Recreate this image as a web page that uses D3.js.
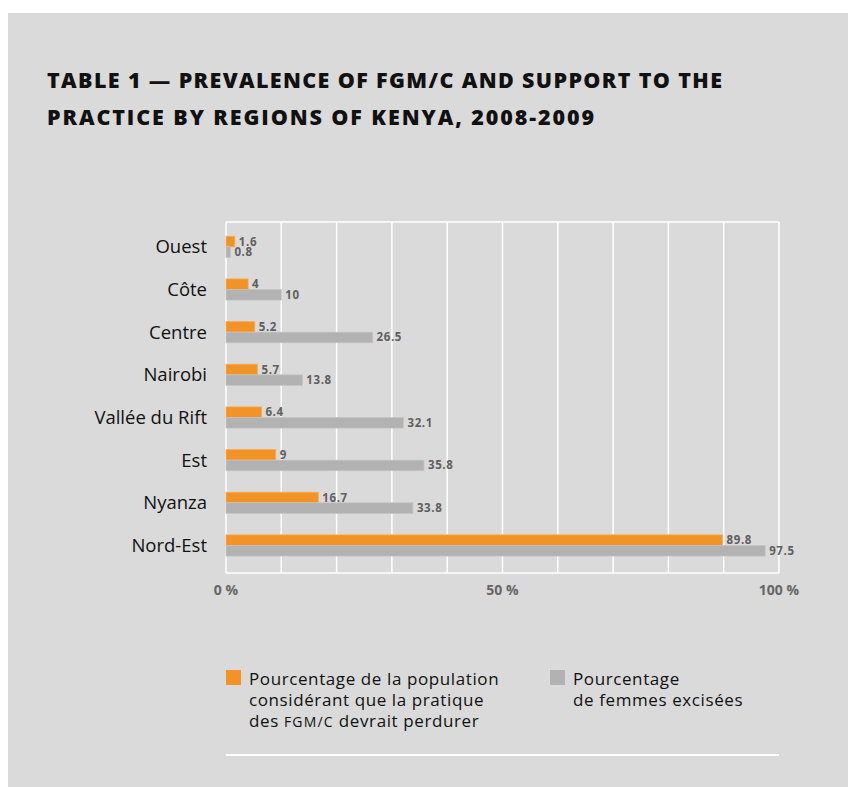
<!DOCTYPE html>
<html>
<head>
<meta charset="utf-8">
<script src="https://cdn.jsdelivr.net/npm/d3@7"></script>
<style>
  html, body { margin: 0; padding: 0; background: #ffffff; }
  svg { display: block; }
</style>
</head>
<body>
<script>
// ---- data ----
const categories = ["Ouest", "Côte", "Centre", "Nairobi", "Vallée du Rift", "Est", "Nyanza", "Nord-Est"];
const supportValues = [1.6, 4, 5.2, 5.7, 6.4, 9, 16.7, 89.8];      // % population supporting continuation
const prevalenceValues = [0.8, 10, 26.5, 13.8, 32.1, 35.8, 33.8, 97.5]; // % women cut
const gridTicks = [0, 10, 20, 30, 40, 50, 60, 70, 80, 90, 100];
const labelTicks = [0, 50, 100];
const titleLines = ["TABLE 1 — PREVALENCE OF FGM/C AND SUPPORT TO THE", "PRACTICE BY REGIONS OF KENYA, 2008-2009"];

const W = 848, H = 787;
const ORANGE = "#F39325", GRAY = "#B2B2B2", BG = "#DADADA";

const svg = d3.select("body").append("svg").attr("width", W).attr("height", H);

// panel background
svg.append("rect").attr("x", 8).attr("y", 13).attr("width", W - 8).attr("height", H - 13).attr("fill", BG);

// title
const tW = [675, 547];
titleLines.forEach((t, i) => {
  svg.append("text")
    .attr("x", 47).attr("y", 88 + i * 37)
    .attr("font-family", "'Open Sans', sans-serif")
    .attr("font-weight", 800)
    .attr("font-size", 21.5)
    .attr("fill", "#111")
    .attr("textLength", tW[i])
    .attr("lengthAdjust", "spacing")
    .text(t);
});

// scales
const x = d3.scaleLinear().domain([0, 100]).range([226, 779]);
const y = d3.scaleBand().domain(categories).range([225.5, 566.8]);
const plotTop = 222, plotBottom = 573;
const barH = 10.6;

// grid
const g = svg.append("g");
g.selectAll("line.grid").data(gridTicks).enter().append("line")
  .attr("x1", d => x(d)).attr("x2", d => x(d))
  .attr("y1", plotTop).attr("y2", plotBottom)
  .attr("stroke", "#fff").attr("stroke-width", 1.5);
[plotTop, plotBottom].forEach(yy => {
  g.append("line").attr("x1", x(0)).attr("x2", x(100)).attr("y1", yy).attr("y2", yy)
    .attr("stroke", "#fff").attr("stroke-width", 1.5);
});

// tick labels
g.selectAll("text.tick").data(labelTicks).enter().append("text")
  .attr("x", d => x(d)).attr("y", 595)
  .attr("text-anchor", "middle")
  .attr("font-family", "'Open Sans', sans-serif")
  .attr("font-weight", 700).attr("font-size", 14)
  .attr("fill", "#666")
  .text(d => d + " %");

// category labels
g.selectAll("text.cat").data(categories).enter().append("text")
  .attr("x", 207).attr("y", d => y(d) + y.bandwidth() / 2)
  .attr("dy", "0.35em")
  .attr("text-anchor", "end")
  .attr("font-family", "'Open Sans', sans-serif")
  .attr("font-size", 18.5)
  .attr("fill", "#111")
  .text(d => d);

const rows = categories.map((c, i) => ({ c, s: supportValues[i], p: prevalenceValues[i] }));

// bars
g.selectAll("rect.sup").data(rows).enter().append("rect")
  .attr("x", x(0)).attr("y", d => y(d.c) + y.bandwidth() / 2 - barH)
  .attr("width", d => x(d.s) - x(0)).attr("height", barH)
  .attr("fill", ORANGE).attr("stroke", "#F5AE5E").attr("stroke-width", 0.8);
g.selectAll("rect.prev").data(rows).enter().append("rect")
  .attr("x", x(0)).attr("y", d => y(d.c) + y.bandwidth() / 2)
  .attr("width", d => x(d.p) - x(0)).attr("height", barH)
  .attr("fill", GRAY).attr("stroke", "#C4C4C4").attr("stroke-width", 0.8);

// value labels
const vlab = (sel, key, off) => sel.enter().append("text")
  .attr("x", d => x(d[key]) + 4)
  .attr("y", d => y(d.c) + y.bandwidth() / 2 + off)
  .attr("dy", "0.35em")
  .attr("font-family", "'Open Sans', sans-serif")
  .attr("font-weight", 700).attr("font-size", 11.5)
  .attr("letter-spacing", 0.6)
  .attr("fill", "#5f5f5f")
  .text(d => d[key]);
vlab(g.selectAll("text.vs").data(rows), "s", -barH / 2);
vlab(g.selectAll("text.vp").data(rows), "p", barH / 2);

// legend
const leg = svg.append("g").attr("font-family", "'Open Sans', sans-serif").attr("font-size", 17).attr("fill", "#111");
leg.append("rect").attr("x", 226).attr("y", 670).attr("width", 15).attr("height", 15).attr("fill", ORANGE);
leg.append("rect").attr("x", 550).attr("y", 670).attr("width", 15).attr("height", 15).attr("fill", GRAY);
const l1 = leg.append("text").attr("x", 249).attr("y", 685).attr("letter-spacing", 0.6);
l1.append("tspan").attr("x", 249).attr("dy", 0).text("Pourcentage de la population");
l1.append("tspan").attr("x", 249).attr("dy", 21).text("considérant que la pratique");
const t3 = l1.append("tspan").attr("x", 249).attr("dy", 21);
t3.text("des ");
l1.append("tspan").attr("font-size", 14).attr("letter-spacing", 1.2).text("FGM/C");
l1.append("tspan").text(" devrait perdurer");
const l2 = leg.append("text").attr("x", 573).attr("y", 685).attr("letter-spacing", 0.6);
l2.append("tspan").attr("x", 573).attr("dy", 0).text("Pourcentage");
l2.append("tspan").attr("x", 573).attr("dy", 21).text("de femmes excisées");

svg.append("line").attr("x1", 226).attr("x2", 779).attr("y1", 755).attr("y2", 755)
  .attr("stroke", "#fff").attr("stroke-width", 2);
</script>
</body>
</html>
